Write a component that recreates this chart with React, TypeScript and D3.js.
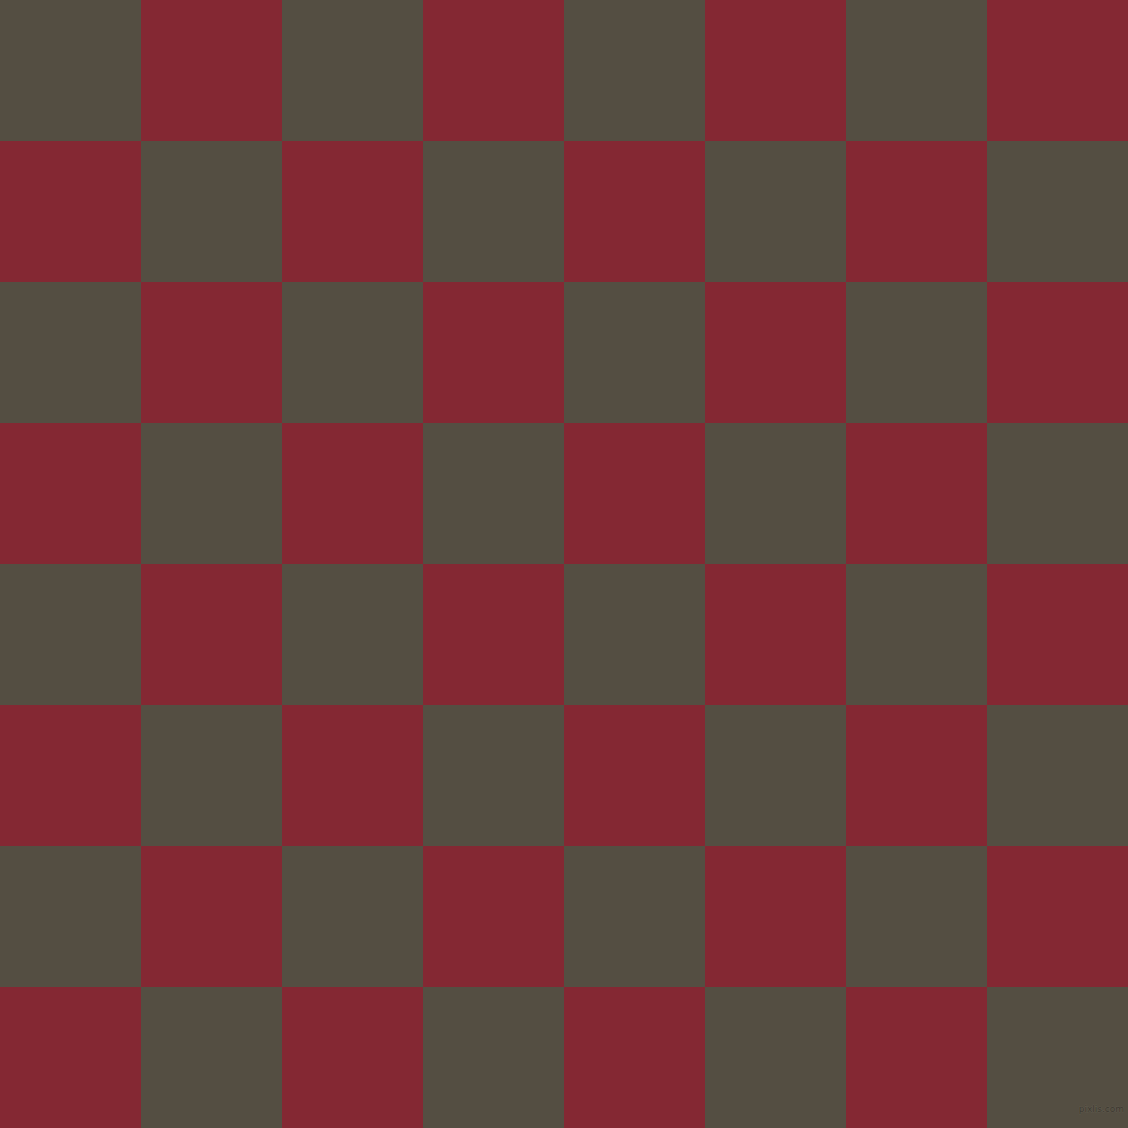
import React from "react";
import * as d3 from "d3";

const rows = [0, 1, 2, 3, 4, 5, 6, 7];
const cols = [0, 1, 2, 3, 4, 5, 6, 7];
const colors = ["#544e42", "#842833"];
const watermark = "pixlis.com";

export default function App() {
  const size = 1128;
  const x = d3.scaleBand<number>().domain(cols).range([0, size]);
  const y = d3.scaleBand<number>().domain(rows).range([0, size]);
  const cells = rows.flatMap((r) => cols.map((c) => ({ r, c })));
  return (
    <svg
      width={size}
      height={size}
      style={{ position: "absolute", left: 0, top: 0, display: "block" }}
    >
      {cells.map(({ r, c }) => (
        <rect
          key={`${r}-${c}`}
          x={x(c)}
          y={y(r)}
          width={x.bandwidth()}
          height={y.bandwidth()}
          fill={colors[(r + c) % 2]}
          shapeRendering="crispEdges"
        />
      ))}
      <text
        x={1124}
        y={1112}
        textAnchor="end"
        fontFamily="DejaVu Sans, sans-serif"
        fontSize={9}
        fill="#3a362e"
        stroke="#6a6458"
        strokeWidth={0.6}
        paintOrder="stroke"
      >
        {watermark}
      </text>
    </svg>
  );
}
